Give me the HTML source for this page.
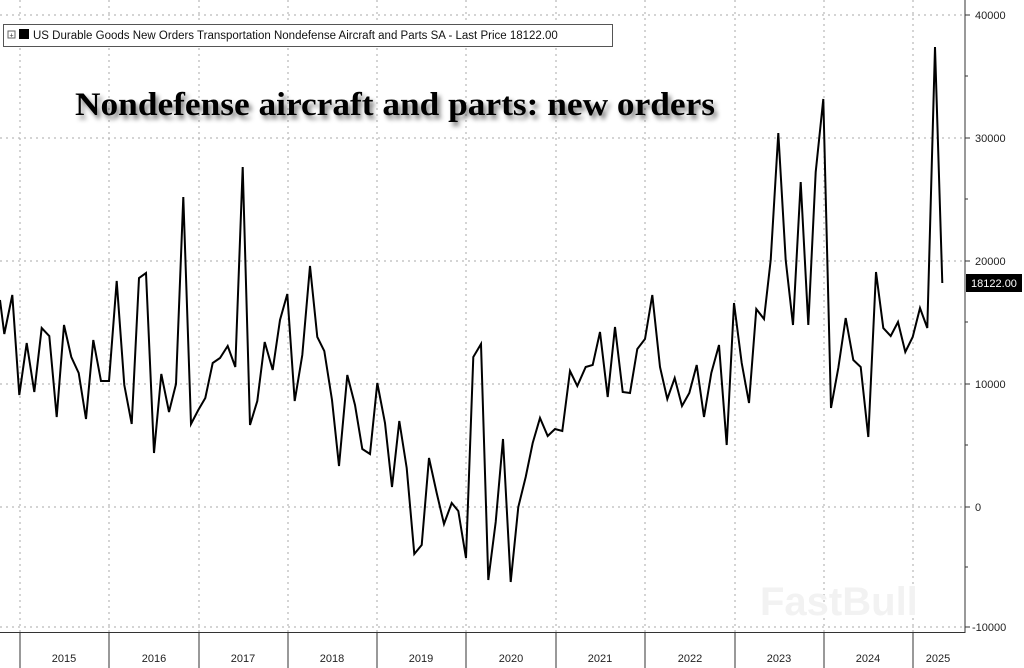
<!DOCTYPE html>
<html><head><meta charset="utf-8"><style>
html,body{margin:0;padding:0;background:#fff;}
svg{display:block;font-family:"Liberation Sans",sans-serif;}
</style></head><body>
<svg width="1024" height="668" viewBox="0 0 1024 668" xmlns="http://www.w3.org/2000/svg">
<defs><filter id="sh" x="-10%" y="-30%" width="120%" height="160%"><feGaussianBlur in="SourceAlpha" stdDeviation="2.5"/><feOffset dx="3" dy="4"/><feComponentTransfer><feFuncA type="linear" slope="0.5"/></feComponentTransfer><feMerge><feMergeNode/><feMergeNode in="SourceGraphic"/></feMerge></filter></defs>
<rect width="1024" height="668" fill="#fff"/>
<g stroke="#aaa" stroke-width="1" stroke-dasharray="2,4">
<line x1="0" y1="15" x2="965" y2="15"/><line x1="0" y1="138" x2="965" y2="138"/><line x1="0" y1="261" x2="965" y2="261"/><line x1="0" y1="384" x2="965" y2="384"/><line x1="0" y1="507" x2="965" y2="507"/><line x1="0" y1="627" x2="965" y2="627"/>
<line x1="20" y1="0" x2="20" y2="632"/><line x1="109" y1="0" x2="109" y2="632"/><line x1="199" y1="0" x2="199" y2="632"/><line x1="288" y1="0" x2="288" y2="632"/><line x1="377" y1="0" x2="377" y2="632"/><line x1="466" y1="0" x2="466" y2="632"/><line x1="556" y1="0" x2="556" y2="632"/><line x1="645" y1="0" x2="645" y2="632"/><line x1="735" y1="0" x2="735" y2="632"/><line x1="824" y1="0" x2="824" y2="632"/><line x1="913" y1="0" x2="913" y2="632"/>
</g>
<text x="760" y="615" font-size="40" font-weight="bold" fill="#f2f2f2">FastBull</text>
<g stroke="#333" stroke-width="1">
<line x1="965" y1="0" x2="965" y2="633"/><line x1="0" y1="632.5" x2="965" y2="632.5"/>
<line x1="965" y1="15" x2="970" y2="15"/><line x1="965" y1="138" x2="970" y2="138"/><line x1="965" y1="261" x2="970" y2="261"/><line x1="965" y1="384" x2="970" y2="384"/><line x1="965" y1="507" x2="970" y2="507"/><line x1="965" y1="627" x2="970" y2="627"/>
<line x1="965" y1="76" x2="968" y2="76"/><line x1="965" y1="199" x2="968" y2="199"/><line x1="965" y1="322" x2="968" y2="322"/><line x1="965" y1="445" x2="968" y2="445"/><line x1="965" y1="567" x2="968" y2="567"/>
<line x1="20" y1="632" x2="20" y2="668"/><line x1="109" y1="632" x2="109" y2="668"/><line x1="199" y1="632" x2="199" y2="668"/><line x1="288" y1="632" x2="288" y2="668"/><line x1="377" y1="632" x2="377" y2="668"/><line x1="466" y1="632" x2="466" y2="668"/><line x1="556" y1="632" x2="556" y2="668"/><line x1="645" y1="632" x2="645" y2="668"/><line x1="735" y1="632" x2="735" y2="668"/><line x1="824" y1="632" x2="824" y2="668"/><line x1="913" y1="632" x2="913" y2="668"/>
</g>
<g font-size="11" fill="#222">
<text x="975" y="19">40000</text><text x="975" y="142">30000</text><text x="975" y="265">20000</text><text x="975" y="388">10000</text><text x="975" y="511">0</text><text x="972" y="631">-10000</text>
</g>
<g font-size="11" fill="#222" text-anchor="middle">
<text x="64" y="662">2015</text><text x="154" y="662">2016</text><text x="243" y="662">2017</text><text x="332" y="662">2018</text><text x="421" y="662">2019</text><text x="511" y="662">2020</text><text x="600" y="662">2021</text><text x="690" y="662">2022</text><text x="779" y="662">2023</text><text x="868" y="662">2024</text><text x="938" y="662">2025</text>
</g>
<polyline fill="none" stroke="#000" stroke-width="2" stroke-linejoin="miter" points="0,300 4.3,334 12.3,295 19.3,395 26.7,343 34.3,392 41.7,328 49.3,336 56.7,417 64,325 71.3,357 78.7,373 86,419 93.3,340 101,381 109,381 116.7,281 124.3,385 131.7,424 139,278 146,273 154,453 161.3,374 169,412 176,384 183.3,197 191,424 198.3,410 205.3,398 212.7,363 220,358 227.7,346 235.3,367 242.7,167 250,425 257.3,401 264.7,342 272.7,370 280,320 287.3,294 294.7,401 302.3,355 310,266 317.3,337 324.3,351 332,400 339,466 347.3,375 355,405 362.3,449 370,454 377.3,383 385,423 392,487 399.3,421 406.7,468 414.3,554 421.7,545 429,458 436.7,493 444,524 451.7,503 458.3,511 466,558 473.3,357 481,344 488.3,580 495.7,522 503,439 510.7,582 518.3,507 525.7,477 532.7,443 540,418 547.7,436 555,429 562.3,431 570,371 577.3,386 585.7,367 592.7,365 600,332 607.7,397 615,327 622.7,392 630,393 637.3,349 645,339 652.3,295 660,367 667.3,399 674.7,378 682,406 689.3,393 696.7,365 704,417 711.3,373 719,345 726.7,445 734,303 741.7,363 749,403 756.3,309 764,319 770.7,260 778.3,133 785.7,260 793,325 800.7,182 808.3,325 815.7,172 823.3,99 831,408 838.3,368 845.7,318 853.3,360 860.7,367 868.3,437 876,272 883.3,328 890.7,336 898,322 905.3,352 912.7,337 920,308 927.3,328 935,47 942.3,283"/>
<rect x="966" y="274" width="56" height="18" fill="#000"/>
<text x="994" y="287" font-size="11" fill="#fff" text-anchor="middle">18122.00</text>
<rect x="3.5" y="24.5" width="609" height="22" fill="#fff" stroke="#555"/>
<rect x="8" y="31" width="7" height="7" fill="#fff" stroke="#666"/>
<text x="9.5" y="37.5" font-size="7" fill="#333">+</text>
<rect x="19" y="29" width="10" height="10" fill="#000"/>
<text x="33" y="39" font-size="11.5" fill="#111">US Durable Goods New Orders Transportation Nondefense Aircraft and Parts SA - Last Price 18122.00</text>
<text x="75" y="115" font-family="Liberation Serif,serif" font-size="33" font-weight="bold" fill="#000" filter="url(#sh)" textLength="640" lengthAdjust="spacingAndGlyphs">Nondefense aircraft and parts: new orders</text>
</svg>
</body></html>
